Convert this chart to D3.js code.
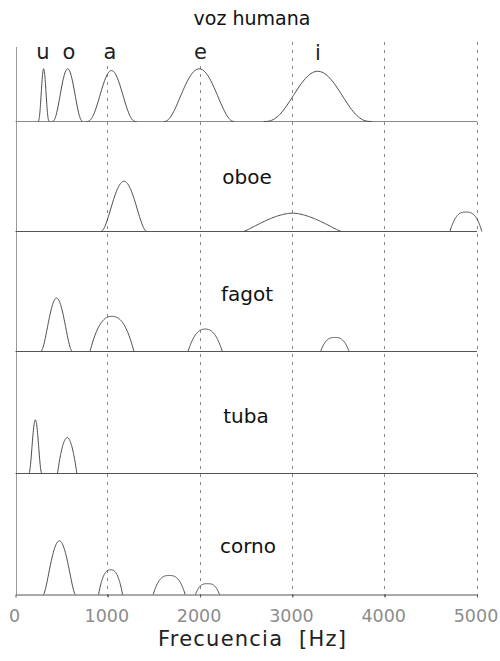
<!DOCTYPE html>
<html>
<head>
<meta charset="utf-8">
<script src="https://cdn.jsdelivr.net/npm/d3@7"></script>
<style>
  html, body { margin: 0; padding: 0; background: #fff; }
  svg { display: block; }
  text { font-family: "DejaVu Sans", sans-serif; }
</style>
</head>
<body>
<svg id="chart" width="500" height="661"></svg>
<script>
// ---------------- data ----------------
const title = "voz humana";
const xAxisLabel = "Frecuencia  [Hz]";
const tickValues = [0, 1000, 2000, 3000, 4000, 5000];
const gridValues = [1000, 2000, 3000, 4000, 5000];
const panels = ["voz humana", "oboe", "fagot", "tuba", "corno"];

// vowel formants (voz humana)
const vowels      = ["u", "o", "a", "e", "i"];
const vowelCenter = [305, 565, 1040, 1990, 3275];   // Hz
const vowelWidth  = [65, 168, 271, 379, 587];       // half-width at base, Hz
const vowelAmp    = [0.976, 0.976, 0.944, 0.976, 0.93];
const vowelShape  = [[2, 3.5], [2, 2.6], [2, 2.8], [2, 2.2], [2, 2.9]];  // [p, q]

// instrument formants
const oboeCenter  = [1175, 3000, 4880];
const oboeWidth   = [250, 530, 173];
const oboeAmp     = [0.93, 0.34, 0.36];
const oboeShape   = [[2, 2.0], [1.7, 1.2], [2.8, 1]];

const fagotCenter = [445, 1045, 2055, 3460];
const fagotWidth  = [173, 238, 186, 154];
const fagotAmp    = [0.99, 0.65, 0.415, 0.26];
const fagotShape  = [[2, 2.0], [2.4, 1], [2.4, 1], [2.8, 1]];

const tubaCenter  = [215, 560];
const tubaWidth   = [72, 105];
const tubaAmp     = [0.994, 0.667];
const tubaShape   = [[2, 2.4], [1.9, 1]];

const cornoCenter = [475, 1030, 1665, 2080];
const cornoWidth  = [173, 130, 173, 130];
const cornoAmp    = [0.994, 0.457, 0.352, 0.2];
const cornoShape  = [[2, 1.6], [2.6, 1], [2.8, 1], [3, 1]];

// ---------------- layout ----------------
const svg = d3.select("#chart");
const x = d3.scaleLinear().domain([0, 5000]).range([15.5, 477]);
const amp = d3.scaleLinear().domain([0, 1]).range([0, 54]);
const baselines = [121, 231, 351, 473, 594];
const topY = 47;

function peaks(center, width, a, shape) {
  return center.map((c, i) => ({ c, w: width[i], a: a[i], p: shape[i][0], q: shape[i][1] }));
}
const panelPeaks = [
  peaks(vowelCenter, vowelWidth, vowelAmp, vowelShape),
  peaks(oboeCenter, oboeWidth, oboeAmp, oboeShape),
  peaks(fagotCenter, fagotWidth, fagotAmp, fagotShape),
  peaks(tubaCenter, tubaWidth, tubaAmp, tubaShape),
  peaks(cornoCenter, cornoWidth, cornoAmp, cornoShape)
];

// grid lines (dotted)
svg.append("g").selectAll("line").data(gridValues).join("line")
  .attr("x1", d => Math.floor(x(d)) + 0.5)
  .attr("x2", d => Math.floor(x(d)) + 0.5)
  .attr("y1", 42).attr("y2", 598)
  .attr("stroke", "#888").attr("stroke-width", 1)
  .attr("stroke-dasharray", "3,5");

// left axis line
svg.append("line")
  .attr("x1", 16.5).attr("x2", 16.5).attr("y1", topY).attr("y2", baselines[4])
  .attr("stroke", "#999").attr("stroke-width", 1);

// baselines for panels 1-4
svg.append("g").selectAll("line").data(baselines.slice(0, 4)).join("line")
  .attr("x1", x(0)).attr("x2", x(5000))
  .attr("y1", d => d + 0.5).attr("y2", d => d + 0.5)
  .attr("stroke", (d, i) => i === 0 ? "#8a8a8a" : "#555").attr("stroke-width", 1);

// bottom axis
const axis = d3.axisBottom(x).tickValues(tickValues).tickSizeInner(3).tickSizeOuter(0)
  .tickPadding(12).tickFormat(d3.format("d"));
const gAxis = svg.append("g").attr("transform", `translate(0,${baselines[4] + 0.5})`).call(axis);
gAxis.select(".domain").attr("stroke", "#555");
gAxis.selectAll(".tick line").attr("stroke", "#555");
gAxis.selectAll(".tick text")
  .attr("font-family", "DejaVu Sans, sans-serif")
  .attr("font-size", 17.5).attr("fill", "#8c8c8c").attr("x", -1.5);

// peaks
const line = d3.line().x(d => x(d[0])).y(d => d[1]);
panelPeaks.forEach((pk, pi) => {
  const base = baselines[pi];
  svg.append("g").selectAll("path").data(pk).join("path")
    .attr("d", p => {
      const pts = [];
      const n = 80;
      for (let k = 0; k <= n; k++) {
        const t = -1 + 2 * k / n;
        const v = p.a * Math.pow(Math.max(0, 1 - Math.pow(Math.abs(t), p.p)), p.q);
        pts.push([p.c + t * p.w, base + 0.5 - amp(v)]);
      }
      return line(pts);
    })
    .attr("fill", "none").attr("stroke", "#4a4a4a").attr("stroke-width", 1);
});

// title
svg.append("text").attr("x", 252).attr("y", 25).attr("text-anchor", "middle")
  .attr("font-size", 19).attr("fill", "#111").text(title);

// vowel labels with white backing
const vowelLabelX = [43, 69, 110, 200.5, 318];
const vg = svg.append("g");
vowels.forEach((v, i) => {
  const cx = vowelLabelX[i];
  vg.append("rect").attr("x", cx - 8).attr("y", 38).attr("width", 16).attr("height", 26)
    .attr("fill", "#fff");
  vg.append("text").attr("x", cx).attr("y", i === 4 ? 60 : 58.5).attr("text-anchor", "middle")
    .attr("font-size", 21).attr("fill", "#222").text(v);
});

// instrument labels
const labelY = [null, 183.5, 300.5, 423, 553];
const labelX = [null, 247, 247, 246, 248];
panels.forEach((p, i) => {
  if (i === 0) return;
  svg.append("text").attr("x", labelX[i]).attr("y", labelY[i]).attr("text-anchor", "middle")
    .attr("font-size", 20).attr("fill", "#111").text(p);
});

// x axis title
svg.append("text").attr("x", 158).attr("y", 646)
  .attr("font-size", 21).attr("fill", "#222")
  .attr("textLength", 188).attr("lengthAdjust", "spacing")
  .style("white-space", "pre").text(xAxisLabel);
</script>
</body>
</html>
